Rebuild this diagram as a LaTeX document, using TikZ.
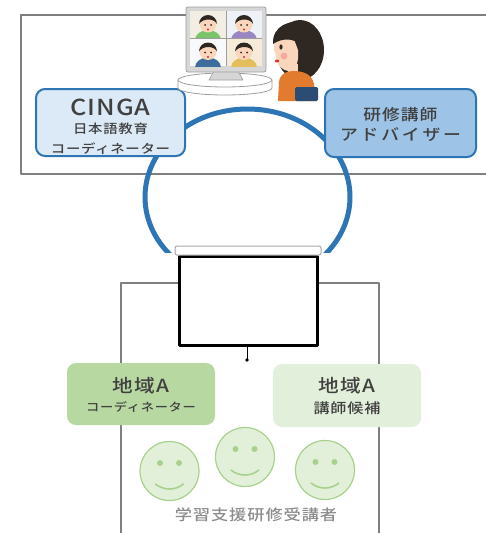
\documentclass[tikz,border=0pt]{standalone}
\usepackage{fontspec}
\setmainfont{Noto Sans CJK JP}[BoldFont={* Medium},FakeStretch=1.15,LetterSpace=6]

\definecolor{cingablue}{HTML}{2E75B6}
\definecolor{cingalight}{HTML}{DCE9F6}
\definecolor{cingamid}{HTML}{9DC3E6}
\definecolor{framegray}{HTML}{7F7F7F}
\definecolor{bargray}{HTML}{A6A6A6}
\definecolor{textgray}{HTML}{404040}
\definecolor{captiongray}{HTML}{8C8C8C}
\definecolor{greenmid}{HTML}{B8D8A2}
\definecolor{greenlight}{HTML}{E2EFDA}
\definecolor{smilefill}{HTML}{E2F0D9}
\definecolor{smileedge}{HTML}{A9D18E}
% clip-art colours
\definecolor{monframe}{HTML}{D6D6D6}
\definecolor{monedge}{HTML}{9E9E9E}
\definecolor{skin}{HTML}{FAD7BC}
\definecolor{hairdark}{HTML}{2E2722}
\definecolor{orangeshirt}{HTML}{E27B2E}
\definecolor{chairblue}{HTML}{2B4D73}
\definecolor{cheekpink}{HTML}{F6A9A0}
\definecolor{lipred}{HTML}{D8322E}

\begin{document}
\begin{tikzpicture}[x=1pt, y=-1pt, line join=round]
    \tikzstyle{frameline} = [draw=framegray, line width=1.4pt]
    \tikzstyle{cingabox} = [draw=cingablue, line width=2pt, rounded corners=9pt, align=center, text=textgray, inner sep=0pt]
    \tikzstyle{greenbox} = [rounded corners=9pt, align=center, text=textgray, inner sep=0pt, minimum width=148pt, minimum height=62pt]
    \tikzstyle{smiley} = [circle, draw=smileedge, fill=smilefill, line width=1.2pt, minimum size=59pt, inner sep=0pt]
    \tikzstyle{smileline} = [draw=smileedge, line width=1.6pt, line cap=round]

    \useasboundingbox (0,0) rectangle (485,533);

    % online room (top) and classroom (bottom)
    \draw[frameline] (487,15) -- (21,15) -- (21,174) -- (487,174);
    \draw[frameline, line width=1.2pt] (121,535) -- (121,283) -- (379,283) -- (379,535);

    % ring joining both rooms
    \begin{scope}
        \clip (0,0) rectangle (485,252);
        \draw[cingablue, line width=5pt] (247.5,197) ellipse [x radius=102.5, y radius=88];
    \end{scope}

    \node[cingabox, fill=cingalight, minimum width=149pt, minimum height=67pt, font=\bfseries\fontsize{12.5}{19}\selectfont] (cinga) at (110.5,122.5)
        {\rule{0pt}{25pt}{\fontsize{22}{24}\selectfont\addfontfeature{LetterSpace=4}CINGA}\\[-1pt] 日本語教育\\[1pt] コーディネーター};
    \node[cingabox, fill=cingamid, minimum width=151pt, minimum height=68pt, font=\bfseries\fontsize{15.5}{20}\selectfont] (advisor) at (400.5,123)
        {\rule{0pt}{16pt}研修講師\\ {\addfontfeature{LetterSpace=18}アドバイザー}};

    % projector screen
    \node[draw=black, line width=3pt, fill=white, minimum width=138pt, minimum height=89pt, inner sep=0pt] (screen) at (248,300.5) {};
    \node[draw=bargray, line width=1pt, fill=white, rounded corners=2pt, minimum width=146pt, minimum height=9pt, inner sep=0pt] (roller) at (248,250.5) {};
    \coordinate (pull) at (247,360);
    \draw[line width=1pt] (screen.south -| pull) -- (pull);
    \fill (pull) circle (1.8);

    \node[greenbox, fill=greenmid, font=\bfseries\fontsize{11.5}{19}\selectfont] (coordA) at (141,394)
        {\rule{0pt}{17pt}{\fontsize{18}{20}\selectfont 地域A}\\ コーディネーター};
    \node[greenbox, fill=greenlight, minimum height=63pt, font=\bfseries\fontsize{14}{21}\selectfont] (candA) at (347,395.5)
        {\rule{0pt}{17pt}{\fontsize{18}{20}\selectfont 地域A}\\ 講師候補};

    % learners
    \foreach \n/\x/\y in {1/169.5/471, 2/245/457, 3/325/470} {
        \node[smiley] (face\n) at (\x,\y) {};
        \fill[smileedge] (face\n.center) ++(-9.5,-8) circle (3);
        \fill[smileedge] (face\n.center) ++(9.5,-8) circle (3);
        \draw[smileline] (face\n.center) ++(-13.9,13.1) arc[start angle=129, end angle=51, radius=22];
    }
    \node[text=captiongray, font=\bfseries\fontsize{15}{18}\selectfont] (learners) at (256,515) {学習支援研修受講者};

    % monitor with the video call
    \draw[fill=white, draw=monedge, line width=0.8pt] (178,80) -- (178,88) arc[start angle=180, end angle=0, x radius=47, y radius=7] -- (272,80);
    \draw[fill=white, draw=monedge, line width=0.8pt] (225,80) ellipse [x radius=47, y radius=7];
    \draw[fill=monframe, draw=monedge, line width=0.6pt] (214,71) -- (238,71) -- (243,80) -- (209,80) -- cycle;
    \draw[fill=monframe, draw=monedge, rounded corners=2pt, line width=0.8pt] (186,7) rectangle (266,72);
    \fill[white] (190,11) rectangle (262,66);
    \foreach \qx/\qy/\bg/\shirt in {190/11/F3EEE4/7CC46C, 226/11/EEF2F6/9B86C4, 190/38.5/F7F9FB/3D6D9C, 226/38.5/F6EBD9/E3BE5C} {
        \begin{scope}
            \clip (\qx,\qy) rectangle ++(36,27.5);
            \definecolor{qbg}{HTML}{\bg}
            \definecolor{qshirt}{HTML}{\shirt}
            \fill[qbg] (\qx,\qy) rectangle ++(36,27.5);
            \fill[qshirt] (\qx+18,\qy+29) ellipse [x radius=13, y radius=10];
            \fill[skin] (\qx+18,\qy+13) circle (8.5);
            \fill[hairdark] (\qx+9,\qy+13) arc[start angle=180, end angle=360, radius=9]
                .. controls (\qx+24,\qy+7) and (\qx+13,\qy+7) .. cycle;
            \fill[hairdark] (\qx+15,\qy+14) circle (1) (\qx+21,\qy+14) circle (1);
            \fill[lipred] (\qx+18,\qy+18.5) circle (1.2);
        \end{scope}
    }
    \draw[monedge, line width=0.6pt] (226,11) -- (226,66) (190,38.5) -- (262,38.5);

    % woman at the monitor
    \fill[hairdark] (300,50) ellipse [x radius=24, y radius=30];
    \fill[skin] (288,64) rectangle (298,76);
    \fill[orangeshirt] (278,101) -- (279,82) .. controls (280,74) and (286,71) .. (293,71)
        .. controls (303,71) and (312,74) .. (314,84) -- (317,101) -- cycle;
    \fill[chairblue, rounded corners=1.5pt] (295,87) rectangle (318,101);
    \fill[skin] (274,50) .. controls (273,40) and (280,32) .. (292,34) -- (298,50)
        .. controls (299,62) and (296,70) .. (290,71) .. controls (282,71) and (276,65) .. (276,56) -- cycle;
    \fill[hairdark] (273,44) .. controls (272,26) and (290,18) .. (306,24) -- (300,44)
        .. controls (292,38) and (282,38) .. cycle;
    \fill[hairdark] (281,47) ellipse [x radius=1.6, y radius=2.6];
    \fill[cheekpink] (284,56) circle (3.5);
    \fill[lipred] (277,61) ellipse [x radius=2.2, y radius=1.4];
\end{tikzpicture}
\end{document}
